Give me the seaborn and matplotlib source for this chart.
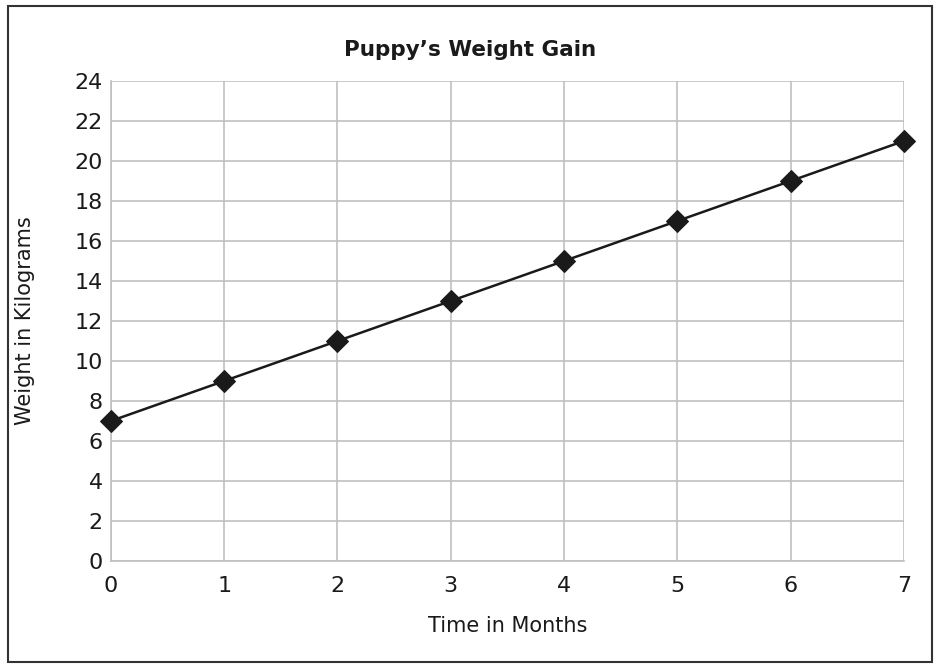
import matplotlib
matplotlib.use("Agg")
import matplotlib.pyplot as plt
import seaborn as sns
import pandas as pd
from matplotlib.patches import Rectangle

# --- DATA ---
months = [0, 1, 2, 3, 4, 5, 6, 7]
weights = [7, 9, 11, 13, 15, 17, 19, 21]
y_ticks = list(range(0, 25, 2))

df = pd.DataFrame({'month': months, 'weight': weights})

sns.set_style('white')
plt.rcParams['font.family'] = ['DejaVu Sans']

fig = plt.figure(figsize=(9.4, 6.66), dpi=100)
ax = fig.add_axes([0.118, 0.1577, 0.8436, 0.7207])

sns.lineplot(data=df, x='month', y='weight', ax=ax, color='#1a1a1a',
             linewidth=1.8, marker='D', markersize=11, markeredgecolor='#1a1a1a',
             clip_on=False, zorder=5)

ax.set_xlim(0, 7)
ax.set_ylim(0, 24)
ax.set_xticks(months)
ax.set_yticks(y_ticks)
ax.grid(True, color='#c0c0c0', linewidth=1.2)
ax.set_axisbelow(True)
for side in ['top', 'right']:
    ax.spines[side].set_visible(False)
for side in ['left', 'bottom']:
    ax.spines[side].set_color('#c0c0c0')
    ax.spines[side].set_linewidth(1.2)
ax.tick_params(axis='x', length=0, labelsize=16, colors='#1a1a1a', pad=11)
ax.tick_params(axis='y', length=0, labelsize=16, colors='#1a1a1a', pad=6)

ax.set_xlabel('Time in Months', fontsize=15, color='#1a1a1a', labelpad=14)
ax.set_ylabel('Weight in Kilograms', fontsize=15, color='#1a1a1a', labelpad=28)
fig.text(0.5, 0.925, 'Puppy\u2019s Weight Gain', ha='center', va='center',
         fontsize=15.5, fontweight='bold', color='#1a1a1a')

# outer frame
fig.patches.append(Rectangle((0.009, 0.006), 0.982, 0.985, transform=fig.transFigure,
                             fill=False, edgecolor='#333333', linewidth=1.5))

fig.savefig('out.png', dpi=100)
